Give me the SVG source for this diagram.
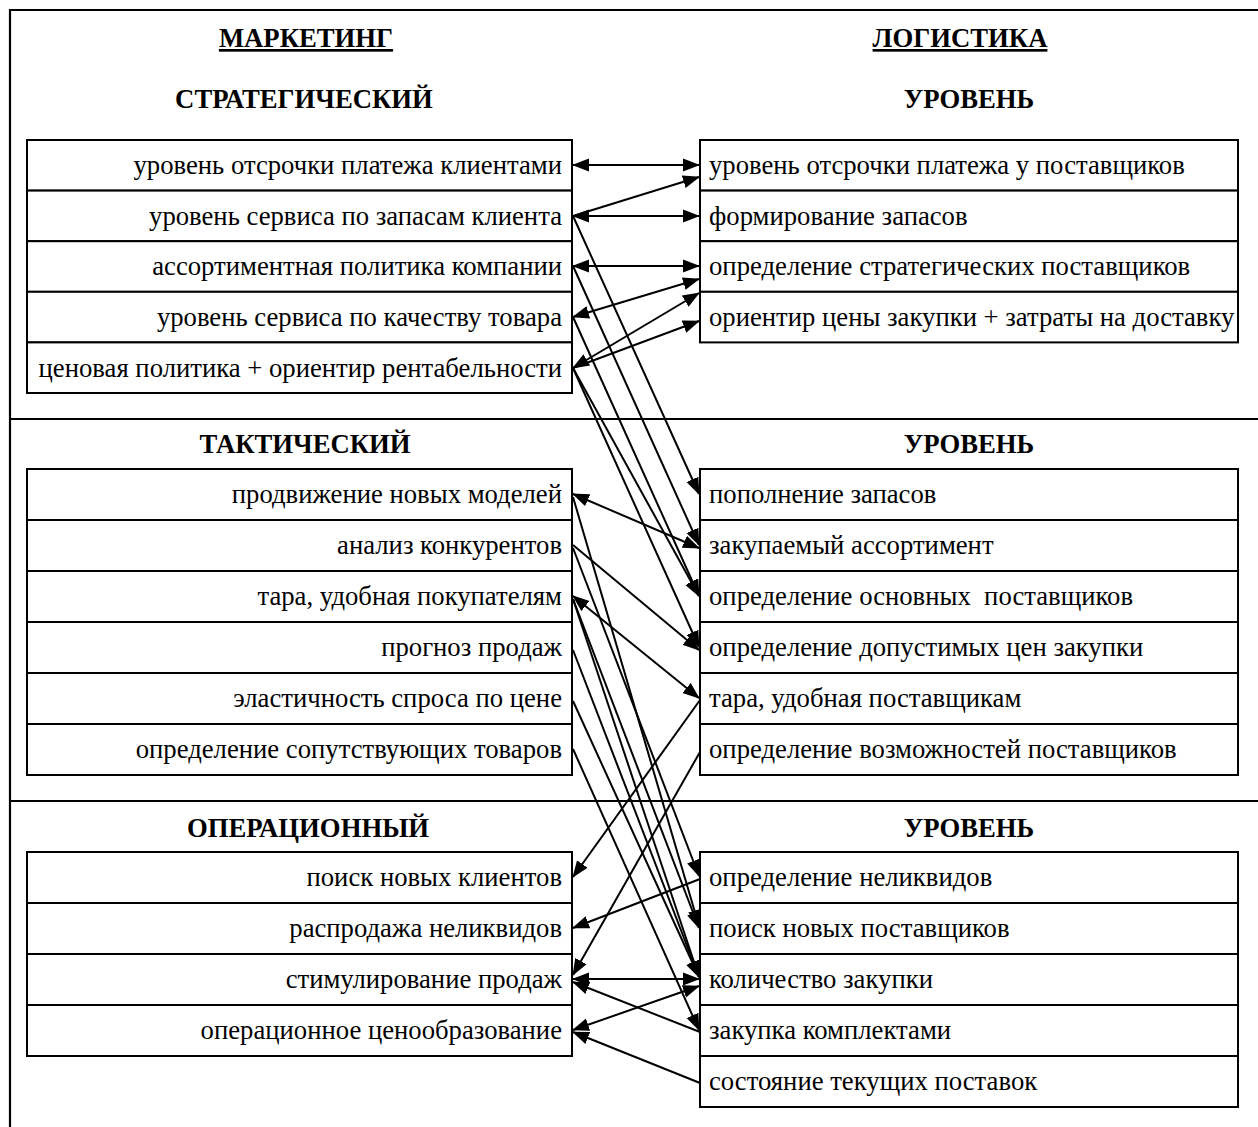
<svg xmlns="http://www.w3.org/2000/svg" width="1258" height="1127" viewBox="0 0 1258 1127">
<style>
.frame{stroke:#000;stroke-width:2.2;fill:none}
.box{fill:#fff;stroke:#000;stroke-width:2}
.t{font-family:"Liberation Serif","Times New Roman",serif;font-size:26.7px;fill:#000}
.l{text-anchor:end}
.h{font-family:"Liberation Serif","Times New Roman",serif;font-size:26.7px;font-weight:bold;fill:#000;text-anchor:middle}
.u{text-decoration:underline}
.c line{stroke:#000;stroke-width:2}
</style>
<defs>
<marker id="a" markerUnits="userSpaceOnUse" markerWidth="18" markerHeight="14" refX="16" refY="7" orient="auto-start-reverse" viewBox="0 0 18 14">
<path d="M0,0.5 L17,7 L0,13.5 z" fill="#000"/>
</marker>
</defs>
<rect width="1258" height="1127" fill="#fff"/>
<g id="frame" class="frame">
<path d="M10,1127 V10 H1258"/>
<path d="M10,419 H1258"/>
<path d="M10,801 H1258"/>
</g>
<g id="headers">
<text class="h u" x="306" y="47">МАРКЕТИНГ</text>
<text class="h u" x="960" y="47">ЛОГИСТИКА</text>
<text class="h" x="304" y="108">СТРАТЕГИЧЕСКИЙ</text>
<text class="h" x="969" y="108">УРОВЕНЬ</text>
<text class="h" x="305" y="453">ТАКТИЧЕСКИЙ</text>
<text class="h" x="969" y="453">УРОВЕНЬ</text>
<text class="h" x="308" y="837">ОПЕРАЦИОННЫЙ</text>
<text class="h" x="969" y="837">УРОВЕНЬ</text>
</g>
<g id="ls1"><rect class="box" x="27" y="140" width="545" height="50.6"/><text class="t l" x="562" y="174">уровень отсрочки платежа клиентами</text></g>
<g id="ls2"><rect class="box" x="27" y="190.6" width="545" height="50.6"/><text class="t l" x="562" y="225">уровень сервиса по запасам клиента</text></g>
<g id="ls3"><rect class="box" x="27" y="241.2" width="545" height="50.6"/><text class="t l" x="562" y="275">ассортиментная политика компании</text></g>
<g id="ls4"><rect class="box" x="27" y="291.8" width="545" height="50.6"/><text class="t l" x="562" y="326">уровень сервиса по качеству товара</text></g>
<g id="ls5"><rect class="box" x="27" y="342.4" width="545" height="50.6"/><text class="t l" x="562" y="377">ценовая политика + ориентир рентабельности</text></g>
<g id="rs1"><rect class="box" x="700" y="140" width="538" height="50.6"/><text class="t" x="709" y="174">уровень отсрочки платежа у поставщиков</text></g>
<g id="rs2"><rect class="box" x="700" y="190.6" width="538" height="50.6"/><text class="t" x="709" y="225">формирование запасов</text></g>
<g id="rs3"><rect class="box" x="700" y="241.2" width="538" height="50.6"/><text class="t" x="709" y="275">определение стратегических поставщиков</text></g>
<g id="rs4"><rect class="box" x="700" y="291.8" width="538" height="50.6"/><text class="t" x="709" y="326">ориентир цены закупки + затраты на доставку</text></g>
<g id="lt1"><rect class="box" x="27" y="469" width="545" height="51"/><text class="t l" x="562" y="503">продвижение новых моделей</text></g>
<g id="lt2"><rect class="box" x="27" y="520" width="545" height="51"/><text class="t l" x="562" y="554">анализ конкурентов</text></g>
<g id="lt3"><rect class="box" x="27" y="571" width="545" height="51"/><text class="t l" x="562" y="605">тара, удобная покупателям</text></g>
<g id="lt4"><rect class="box" x="27" y="622" width="545" height="51"/><text class="t l" x="562" y="656">прогноз продаж</text></g>
<g id="lt5"><rect class="box" x="27" y="673" width="545" height="51"/><text class="t l" x="562" y="707">эластичность спроса по цене</text></g>
<g id="lt6"><rect class="box" x="27" y="724" width="545" height="51"/><text class="t l" x="562" y="758">определение сопутствующих товаров</text></g>
<g id="rt1"><rect class="box" x="700" y="469" width="538" height="51"/><text class="t" x="709" y="503">пополнение запасов</text></g>
<g id="rt2"><rect class="box" x="700" y="520" width="538" height="51"/><text class="t" x="709" y="554">закупаемый ассортимент</text></g>
<g id="rt3"><rect class="box" x="700" y="571" width="538" height="51"/><text class="t" x="709" y="605" xml:space="preserve">определение основных  поставщиков</text></g>
<g id="rt4"><rect class="box" x="700" y="622" width="538" height="51"/><text class="t" x="709" y="656">определение допустимых цен закупки</text></g>
<g id="rt5"><rect class="box" x="700" y="673" width="538" height="51"/><text class="t" x="709" y="707">тара, удобная поставщикам</text></g>
<g id="rt6"><rect class="box" x="700" y="724" width="538" height="51"/><text class="t" x="709" y="758">определение возможностей поставщиков</text></g>
<g id="lo1"><rect class="box" x="27" y="852" width="545" height="51"/><text class="t l" x="562" y="886">поиск новых клиентов</text></g>
<g id="lo2"><rect class="box" x="27" y="903" width="545" height="51"/><text class="t l" x="562" y="937">распродажа неликвидов</text></g>
<g id="lo3"><rect class="box" x="27" y="954" width="545" height="51"/><text class="t l" x="562" y="988">стимулирование продаж</text></g>
<g id="lo4"><rect class="box" x="27" y="1005" width="545" height="51"/><text class="t l" x="562" y="1039">операционное ценообразование</text></g>
<g id="ro1"><rect class="box" x="700" y="852" width="538" height="51"/><text class="t" x="709" y="886">определение неликвидов</text></g>
<g id="ro2"><rect class="box" x="700" y="903" width="538" height="51"/><text class="t" x="709" y="937">поиск новых поставщиков</text></g>
<g id="ro3"><rect class="box" x="700" y="954" width="538" height="51"/><text class="t" x="709" y="988">количество закупки</text></g>
<g id="ro4"><rect class="box" x="700" y="1005" width="538" height="51"/><text class="t" x="709" y="1039">закупка комплектами</text></g>
<g id="ro5"><rect class="box" x="700" y="1056" width="538" height="51"/><text class="t" x="709" y="1090">состояние текущих поставок</text></g>
<g id="connectors" class="c">
<line x1="573" y1="165" x2="699" y2="165" marker-start="url(#a)" marker-end="url(#a)"/>
<line x1="573" y1="216" x2="699" y2="177" marker-end="url(#a)"/>
<line x1="573" y1="216" x2="699" y2="216" marker-start="url(#a)" marker-end="url(#a)"/>
<line x1="573" y1="266" x2="699" y2="266" marker-start="url(#a)" marker-end="url(#a)"/>
<line x1="573" y1="317" x2="699" y2="279" marker-start="url(#a)" marker-end="url(#a)"/>
<line x1="573" y1="368" x2="699" y2="293" marker-start="url(#a)" marker-end="url(#a)"/>
<line x1="573" y1="368" x2="699" y2="321" marker-end="url(#a)"/>
<line x1="573" y1="216" x2="699" y2="494" marker-end="url(#a)"/>
<line x1="573" y1="266" x2="699" y2="545" marker-end="url(#a)"/>
<line x1="573" y1="317" x2="699" y2="596" marker-end="url(#a)"/>
<line x1="573" y1="368" x2="699" y2="596" marker-end="url(#a)"/>
<line x1="573" y1="368" x2="699" y2="647" marker-end="url(#a)"/>
<line x1="573" y1="494" x2="699" y2="548" marker-start="url(#a)" marker-end="url(#a)"/>
<line x1="573" y1="545" x2="699" y2="650" marker-end="url(#a)"/>
<line x1="573" y1="596" x2="699" y2="698" marker-start="url(#a)" marker-end="url(#a)"/>
<line x1="700" y1="700" x2="573" y2="877" marker-end="url(#a)"/>
<line x1="700" y1="752" x2="573" y2="975" marker-end="url(#a)"/>
<line x1="573" y1="497" x2="699" y2="926" marker-end="url(#a)"/>
<line x1="573" y1="548" x2="699" y2="876" marker-end="url(#a)"/>
<line x1="573" y1="599" x2="699" y2="928" marker-end="url(#a)"/>
<line x1="573" y1="599" x2="699" y2="977" marker-end="url(#a)"/>
<line x1="573" y1="650" x2="699" y2="977" marker-end="url(#a)"/>
<line x1="573" y1="701" x2="699" y2="977" marker-end="url(#a)"/>
<line x1="573" y1="749" x2="699" y2="1030" marker-end="url(#a)"/>
<line x1="700" y1="879" x2="573" y2="928" marker-end="url(#a)"/>
<line x1="573" y1="979" x2="699" y2="979" marker-start="url(#a)" marker-end="url(#a)"/>
<line x1="700" y1="1032" x2="573" y2="982" marker-end="url(#a)"/>
<line x1="573" y1="1030" x2="699" y2="986" marker-start="url(#a)" marker-end="url(#a)"/>
<line x1="700" y1="1083" x2="573" y2="1032" marker-end="url(#a)"/>
</g>
</svg>
